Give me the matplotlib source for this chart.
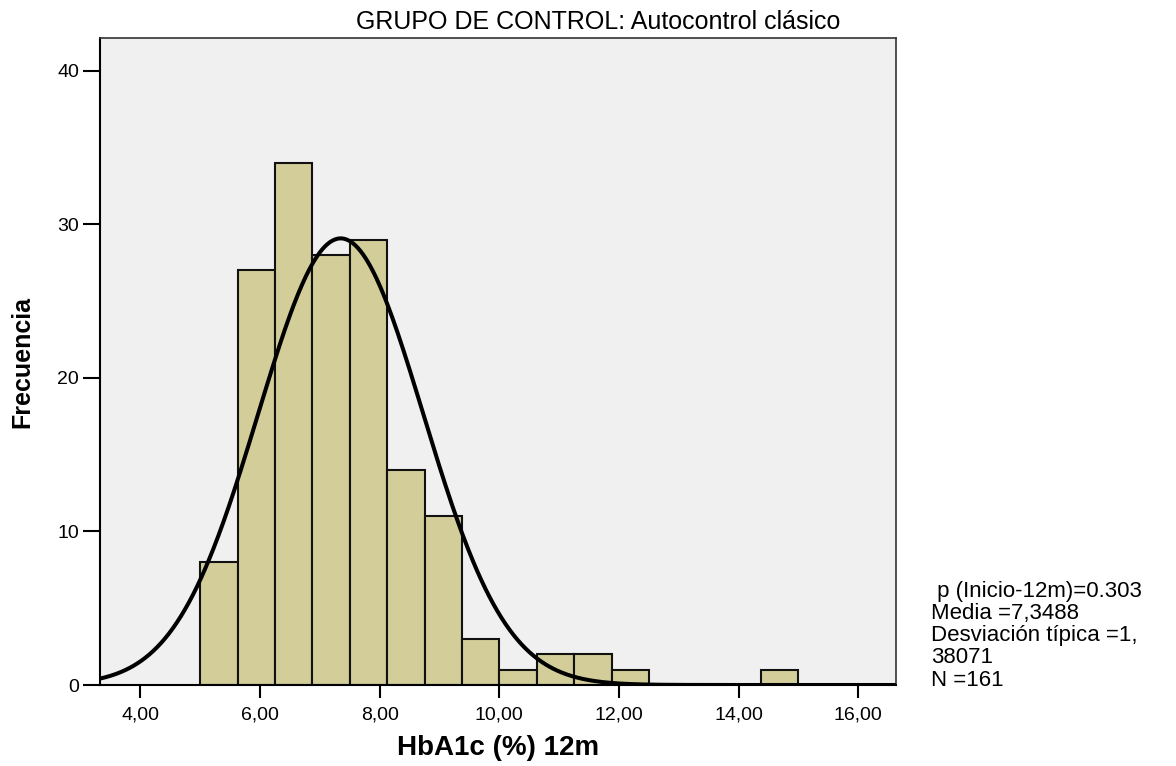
import numpy as np
import matplotlib
matplotlib.use("Agg")
import matplotlib.pyplot as plt

plt.rcParams['font.family'] = ['Liberation Sans', 'DejaVu Sans']

# histogram data (HbA1c 12m, grupo de control)
bin_start = 5.0
bin_width = 0.625
counts = [8, 27, 34, 28, 29, 14, 11, 3, 1, 2, 2, 1, 0, 0, 0, 1]

media = 7.3488
desv = 1.38071
n = 161

xticks = [4, 6, 8, 10, 12, 14, 16]
xtick_labels = ['4,00', '6,00', '8,00', '10,00', '12,00', '14,00', '16,00']
yticks = [0, 10, 20, 30, 40]

stats_lines = [' p (Inicio-12m)=0.303', 'Media =7,3488', 'Desviación típica =1,', '38071', 'N =161']

fig = plt.figure(figsize=(11.76, 7.66), dpi=100)
ax = fig.add_axes([100/1176, 81/766, 796/1176, 646.7/766])
ax.set_facecolor('#f0f0f0')

edges = bin_start + bin_width*np.arange(len(counts)+1)
ax.bar(edges[:-1], counts, width=bin_width, align='edge',
       color='#d3ce99', edgecolor='#111111', linewidth=1.5, zorder=2)

# normal curve
xmin, xmax = 3.326, 16.63
xs = np.linspace(xmin, xmax, 600)
ys = n*bin_width/(desv*np.sqrt(2*np.pi))*np.exp(-0.5*((xs-media)/desv)**2)
ax.plot(xs, ys, color='black', linewidth=2.9, zorder=3)

ax.set_xlim(xmin, xmax)
ax.set_ylim(0, 42.1)
ax.set_xticks(xticks)
ax.set_xticklabels(xtick_labels)
ax.set_yticks(yticks)
ax.tick_params(axis='x', length=9.5, width=1.5, labelsize=14, pad=6)
ax.tick_params(axis='y', length=12, width=1.5, labelsize=14, pad=3)

for s in ['left', 'bottom']:
    ax.spines[s].set_linewidth(1.5)
    ax.spines[s].set_color('black')
for s in ['top', 'right']:
    ax.spines[s].set_linewidth(1.2)
    ax.spines[s].set_color('#333333')

ax.set_xlabel('HbA1c (%) 12m', fontsize=20, fontweight='bold')
ax.set_ylabel('Frecuencia', fontsize=18, fontweight='bold')
ax.xaxis.set_label_coords(0.5, -(748-685)/646.7)
ax.yaxis.set_label_coords(-78/796, 0.5)
ax.xaxis.label.set_va('center')
ax.yaxis.label.set_va('center')
fig.text(598/1176, 1-22/766, 'GRUPO DE CONTROL: Autocontrol clásico',
         fontsize=18, ha='center', va='center')

for i, line in enumerate(stats_lines):
    fig.text(931/1176, 1-(591+22.3*i)/766, line, fontsize=16, ha='left', va='center')

fig.savefig('out.png', dpi=100)
